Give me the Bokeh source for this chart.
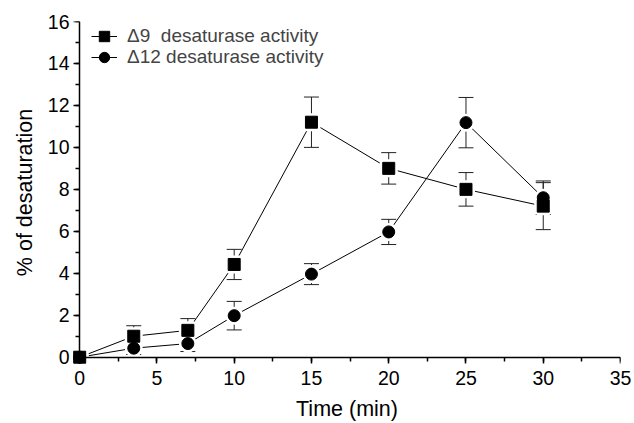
from bokeh.plotting import figure
from bokeh.models import (Range1d, Whisker, ColumnDataSource, Legend, LegendItem,
                          TeeHead, FixedTicker, LinearAxis)
from bokeh.embed import file_html
from bokeh.resources import INLINE

time = [0, 3.5, 7, 10, 15, 20, 25, 30]
d9 = [0, 1.0, 1.28, 4.42, 11.2, 9.0, 8.0, 7.2]
d9_err = [0, 0.5, 0.56, 0.72, 1.2, 0.75, 0.8, 1.12]
d12 = [0, 0.43, 0.65, 1.98, 3.96, 5.97, 11.18, 7.6]
d12_err = [0, 0.3, 0.38, 0.68, 0.5, 0.6, 1.2, 0.8]

labels = ["\u03949  desaturase activity", "\u039412 desaturase activity"]
x_ticks = [0, 5, 10, 15, 20, 25, 30, 35]
y_ticks = [0, 2, 4, 6, 8, 10, 12, 14, 16]
x_minor = [0, 2.5, 5, 7.5, 10, 12.5, 15, 17.5, 20, 22.5, 25, 27.5, 30, 32.5, 35]
y_minor = list(range(17))

FONT = "Liberation Sans"

p = figure(width=634, height=423, x_range=Range1d(-0.4, 35), y_range=Range1d(-0.3, 16),
           output_backend="svg", toolbar_location=None,
           min_border_left=73, min_border_right=14, min_border_top=21, min_border_bottom=59)
p.outline_line_color = None
p.xgrid.visible = False
p.ygrid.visible = False
p.background_fill_color = "white"
p.border_fill_color = "white"

# label-only axes at the frame edges
p.xaxis.ticker = FixedTicker(ticks=x_ticks, minor_ticks=[])
p.yaxis.ticker = FixedTicker(ticks=y_ticks, minor_ticks=[])
for ax in (p.xaxis[0], p.yaxis[0]):
    ax.axis_line_color = None
    ax.major_tick_line_color = None
    ax.minor_tick_line_color = None
    ax.major_tick_out = 0
    ax.major_tick_in = 0
    ax.minor_tick_out = 0
    ax.minor_tick_in = 0
    ax.major_label_text_font = FONT
    ax.major_label_text_font_size = "19.5px"
    ax.major_label_text_color = "black"
    ax.axis_label_text_font = FONT
    ax.axis_label_text_font_size = "21.5px"
    ax.axis_label_text_font_style = "normal"
    ax.axis_label_text_color = "black"
p.xaxis.axis_label = "Time (min)"
p.yaxis.axis_label = "% of desaturation"
p.xaxis.major_label_standoff = 7
p.yaxis.major_label_standoff = 4
p.xaxis.axis_label_standoff = 9
p.yaxis.axis_label_standoff = 8

# axis lines + ticks at the data origin
for side, ticks, minor in (("below", x_ticks, x_minor), ("left", y_ticks, y_minor)):
    a = LinearAxis(fixed_location=0, ticker=FixedTicker(ticks=ticks, minor_ticks=minor),
                   axis_line_width=1.5, axis_line_color="black",
                   major_tick_line_width=1.5, minor_tick_line_width=1.5,
                   major_tick_out=7, major_tick_in=0, minor_tick_out=4, minor_tick_in=0,
                   major_label_text_color=None)
    p.add_layout(a, side)

src9 = ColumnDataSource(dict(x=time, y=d9))
src12 = ColumnDataSource(dict(x=time, y=d12))

# connecting lines
l9 = p.line("x", "y", source=src9, line_color="black", line_width=1)
l12 = p.line("x", "y", source=src12, line_color="black", line_width=1)
# white halos to create gaps between lines and markers
p.scatter("x", "y", source=src9, marker="square", size=12, fill_color="white",
          line_color="white", line_width=6)
p.scatter("x", "y", source=src12, marker="circle", size=12, fill_color="white",
          line_color="white", line_width=6)

# error bars (skip zero-error points)
for x, y, e in ((time, d9, d9_err), (time, d12, d12_err)):
    xs = [a for a, b in zip(x, e) if b > 0]
    lo = [v - b for v, b in zip(y, e) if b > 0]
    hi = [v + b for v, b in zip(y, e) if b > 0]
    ws = ColumnDataSource(dict(x=xs, lo=lo, hi=hi))
    w = Whisker(base="x", lower="lo", upper="hi", source=ws, dimension="height",
                line_color="#222222", line_width=1,
                upper_head=TeeHead(size=15, line_color="#222222", line_width=1),
                lower_head=TeeHead(size=15, line_color="#222222", line_width=1))
    p.add_layout(w)

m9 = p.scatter("x", "y", source=src9, marker="square", size=12, fill_color="black",
               line_color="black", level="overlay")
m12 = p.scatter("x", "y", source=src12, marker="circle", size=12, fill_color="black",
                line_color="black", level="overlay")

for lab, rends, loc in ((labels[0], [l9, m9], (18, 314)), (labels[1], [l12, m12], (18, 293))):
    legend = Legend(items=[LegendItem(label=lab, renderers=rends)],
                    location=loc, border_line_color=None, background_fill_alpha=0,
                    label_text_font=FONT, label_text_font_size="19px",
                    glyph_width=26, glyph_height=26, spacing=0, padding=0,
                    margin=0, label_standoff=10)
    p.add_layout(legend)

open("out.html", "w").write(file_html(p, INLINE))
